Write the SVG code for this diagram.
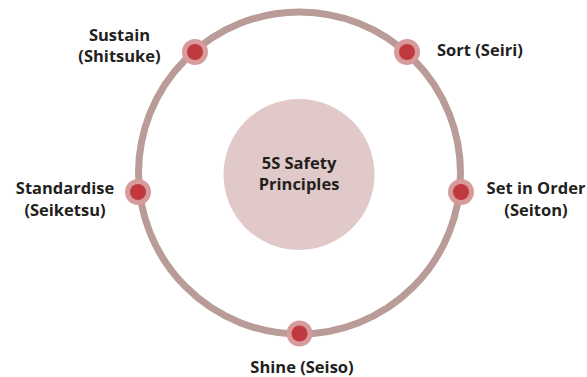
<svg xmlns="http://www.w3.org/2000/svg" width="587" height="377" viewBox="0 0 587 377">
<style>
.lbl{font-family:"Open Sans","Noto Sans","Liberation Sans",sans-serif;font-weight:bold;font-size:16.5px;fill:#231f20;}
.ring{fill:#d79b9c;}
.dot{fill:#c0393f;}
</style>
<defs>
<g id="marker"><circle class="ring" r="13"/><circle class="dot" r="8"/></g>
</defs>
<rect width="587" height="377" fill="#ffffff"/>
<g id="connectors">
<circle cx="299.5" cy="173" r="161" fill="none" stroke="#b99c98" stroke-width="7"/>
</g>
<g id="center">
<circle cx="299" cy="174.5" r="75.5" fill="#e0c9c8"/>
<text class="lbl" x="299" y="169" text-anchor="middle">5S Safety</text>
<text class="lbl" x="299" y="190" text-anchor="middle">Principles</text>
</g>
<g id="sort">
<use href="#marker" x="407" y="52"/>
<text class="lbl" x="437" y="56">Sort (Seiri)</text>
</g>
<g id="set-in-order">
<use href="#marker" x="461" y="192"/>
<text class="lbl" x="536" y="194" text-anchor="middle">Set in Order</text>
<text class="lbl" x="536" y="216" text-anchor="middle">(Seiton)</text>
</g>
<g id="shine">
<use href="#marker" x="299.5" y="333.5"/>
<text class="lbl" x="302" y="373" text-anchor="middle">Shine (Seiso)</text>
</g>
<g id="standardise">
<use href="#marker" x="138" y="192"/>
<text class="lbl" x="65" y="194" text-anchor="middle">Standardise</text>
<text class="lbl" x="65" y="216" text-anchor="middle">(Seiketsu)</text>
</g>
<g id="sustain">
<use href="#marker" x="195" y="52"/>
<text class="lbl" x="119.5" y="41" text-anchor="middle">Sustain</text>
<text class="lbl" x="119.5" y="62" text-anchor="middle">(Shitsuke)</text>
</g>
</svg>
